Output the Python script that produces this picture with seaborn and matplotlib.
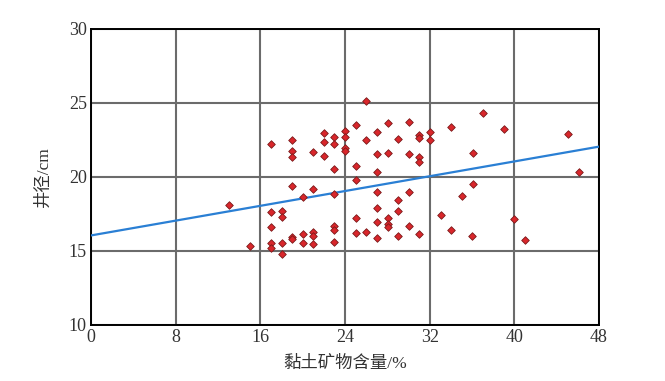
import matplotlib
matplotlib.use("Agg")
import matplotlib.pyplot as plt
import seaborn as sns
import numpy as np
import pandas as pd

# clay mineral content (%) and borehole diameter (cm)
clay = [13.0, 15.0, 17.0, 17.0, 17.0, 17.0, 17.0, 18.05, 18.05, 18.05, 18.05,
        19.0, 19.0, 19.0, 19.0, 19.0, 19.0, 20.0, 20.0, 20.0,
        21.0, 21.0, 21.0, 21.0, 21.0, 22.0, 22.0, 22.0,
        23.0, 23.0, 23.0, 23.0, 23.0, 23.0, 23.0,
        24.0, 24.0, 24.0, 24.0, 25.0, 25.0, 25.0, 25.0, 25.0,
        26.0, 26.0, 26.0, 27.0, 27.0, 27.0, 27.0, 27.0, 27.0, 27.0,
        28.05, 28.05, 28.05, 28.05, 28.05, 29.0, 29.0, 29.0, 29.0,
        30.05, 30.05, 30.05, 30.05, 31.0, 31.0, 31.0, 31.0, 31.0,
        32.0, 32.0, 33.05, 34.0, 34.0, 35.05, 36.1, 36.1, 36.0,
        37.05, 39.0, 40.0, 41.0, 45.05, 46.1]
diameter = [18.1, 15.35, 22.25, 17.65, 16.6, 15.55, 15.2, 17.7, 17.3, 15.55, 14.8,
            22.5, 21.75, 21.35, 19.4, 15.95, 15.8, 18.65, 16.15, 15.55,
            21.7, 19.2, 16.3, 16.0, 15.45, 22.95, 22.35, 21.4,
            22.7, 22.25, 20.55, 18.85, 16.7, 16.4, 15.6,
            23.1, 22.7, 21.95, 21.75, 23.5, 20.75, 19.8, 17.25, 16.2,
            25.15, 22.5, 16.3, 23.05, 21.55, 20.35, 19.0, 17.9, 16.95, 15.9,
            23.65, 21.6, 17.25, 16.8, 16.6, 22.55, 18.45, 17.7, 16.0,
            23.7, 21.55, 19.0, 16.7, 22.85, 22.65, 21.35, 21.0, 16.15,
            23.05, 22.5, 17.45, 23.4, 16.4, 18.7, 21.6, 19.55, 16.0,
            24.3, 23.25, 17.15, 15.75, 22.9, 20.35]

# fitted trend line
fit_intercept = 16.05
fit_slope = 0.125
fit_x = [0, 48]

x_ticks = [0, 8, 16, 24, 32, 40, 48]
y_ticks = [10, 15, 20, 25, 30]
x_label = "黏土矿物含量/%"
y_label = "井径/cm"

df = pd.DataFrame({"clay": clay, "diameter": diameter})

sns.set_style("white")
plt.rcParams["font.family"] = ["Liberation Serif", "Noto Sans CJK SC", "DejaVu Sans"]

fig = plt.figure(figsize=(6.65, 3.81), dpi=100)
ax = fig.add_axes([0.1368, 0.147, 0.764, 0.777])

fit_y = [fit_intercept + fit_slope * v for v in fit_x]
sns.lineplot(x=fit_x, y=fit_y, ax=ax, color="#2a7fd4", linewidth=1.6, zorder=3)
sns.scatterplot(data=df, x="clay", y="diameter", ax=ax, marker="D", s=15,
                color="#d9262b", edgecolor="#7a1a1a", linewidth=0.6, zorder=4)

ax.set_xlim(0, 48)
ax.set_ylim(10, 30)
ax.set_xticks(x_ticks)
ax.set_yticks(y_ticks)
ax.grid(True, color="#6b6b6b", linewidth=1.5, zorder=1)
ax.set_axisbelow(True)
for s in ax.spines.values():
    s.set_color("black")
    s.set_linewidth(1.4)
ax.tick_params(axis="both", length=0, labelsize=13, pad=3, colors="#333333")
lab_family = ["Liberation Serif", "Noto Sans CJK SC", "DejaVu Sans"]
ax.set_xlabel(x_label, fontsize=12.5, family=lab_family, labelpad=7, color="#333333")
ax.set_ylabel(y_label, fontsize=12.5, family=lab_family, labelpad=12, color="#333333")

fig.savefig("out.png", dpi=100)
